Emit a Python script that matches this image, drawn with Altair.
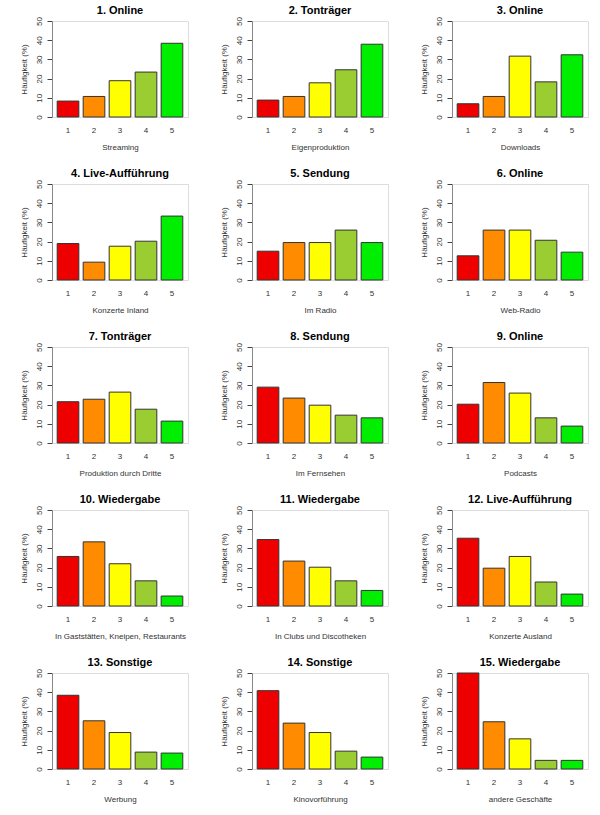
import altair as alt
import pandas as pd

titles = ["1. Online", "2. Tonträger", "3. Online",
          "4. Live-Aufführung", "5. Sendung", "6. Online",
          "7. Tonträger", "8. Sendung", "9. Online",
          "10. Wiedergabe", "11. Wiedergabe", "12. Live-Aufführung",
          "13. Sonstige", "14. Sonstige", "15. Wiedergabe"]
xlabels = ["Streaming", "Eigenproduktion", "Downloads",
           "Konzerte Inland", "Im Radio", "Web-Radio",
           "Produktion durch Dritte", "Im Fernsehen", "Podcasts",
           "In Gaststätten, Kneipen, Restaurants", "In Clubs und Discotheken", "Konzerte Ausland",
           "Werbung", "Kinovorführung", "andere Geschäfte"]
categories = ["1", "2", "3", "4", "5"]
values = [
    [8.3, 10.7, 18.9, 23.4, 38.4],
    [8.8, 10.7, 17.8, 24.6, 37.9],
    [6.9, 10.7, 31.7, 18.3, 32.4],
    [19.0, 9.3, 17.6, 20.2, 33.3],
    [15.0, 19.5, 19.5, 26.0, 19.5],
    [12.6, 26.0, 26.0, 20.7, 14.5],
    [21.5, 22.8, 26.5, 17.6, 11.4],
    [29.1, 23.4, 19.7, 14.5, 13.1],
    [20.2, 31.5, 26.0, 13.1, 8.8],
    [25.8, 33.4, 22.0, 13.1, 5.2],
    [34.6, 23.4, 20.2, 13.1, 8.1],
    [35.3, 19.7, 25.8, 12.5, 6.2],
    [38.4, 25.1, 19.0, 8.8, 8.3],
    [40.8, 23.9, 19.0, 9.3, 6.2],
    [50.0, 24.6, 15.7, 4.5, 4.5],
]
colors = ["#EE0000", "#FF8C00", "#FFFF00", "#9ACD32", "#00EE00"]
yticks = [0, 10, 20, 30, 40, 50]

FONT = "Liberation Sans"


def panel(i):
    df = pd.DataFrame({"cat": categories, "val": values[i]})
    return alt.Chart(df).mark_bar(stroke="#333333", strokeWidth=1).encode(
        x=alt.X("cat:N", sort=categories,
                scale=alt.Scale(paddingInner=0.1667, paddingOuter=0.2),
                axis=alt.Axis(title=xlabels[i], labelAngle=0, domain=False, ticks=False,
                              labelPadding=9, titlePadding=9, labelFontSize=8,
                              titleFontSize=8, titleFontWeight="normal",
                              labelColor="#333333", titleColor="#333333")),
        y=alt.Y("val:Q", scale=alt.Scale(domain=[0, 50], nice=False, zero=True),
                axis=alt.Axis(title="Häufigkeit (%)", values=yticks, labelAngle=-90,
                              labelAlign="center", labelBaseline="bottom",
                              grid=False, tickSize=5, labelPadding=4,
                              domainColor="#888888", tickColor="#444444",
                              labelFontSize=8, titleFontSize=8, titleFontWeight="normal",
                              labelColor="#333333", titleColor="#333333",
                              titlePadding=7)),
        color=alt.Color("cat:N", scale=alt.Scale(domain=categories, range=colors), legend=None),
    ).properties(
        width=136, height=96,
        title=alt.TitleParams(titles[i], fontSize=11, fontWeight="bold", font=FONT,
                              color="#000000", offset=1, frame="group", anchor="middle"),
    )


rows = [alt.hconcat(*[panel(r * 3 + c) for c in range(3)], spacing=30) for r in range(5)]
chart = alt.vconcat(*rows, spacing=15).properties(
    padding={"left": 19, "top": 4, "right": 0, "bottom": 0}
).configure_view(stroke=None).configure(font=FONT)

chart.save("out.html", embed_options={"renderer": "svg", "actions": False})
